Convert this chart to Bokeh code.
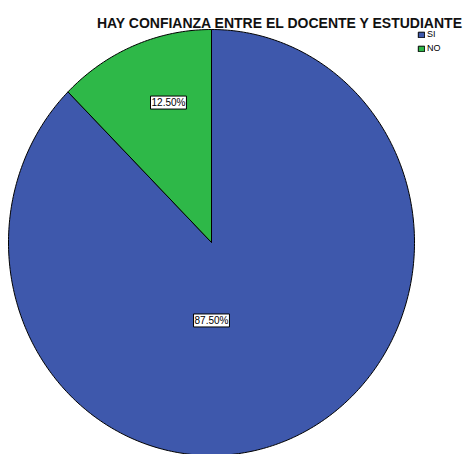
import numpy as np
from bokeh.plotting import figure
from bokeh.models import Legend, LegendItem, Label
from bokeh.embed import file_html
from bokeh.resources import INLINE

# ---- data ----
categories = ["SI", "NO"]
percentages = [87.5, 12.5]
labels = ["87.50%", "12.50%"]
colors = ["#3E58AC", "#2EB848"]
title_text = "HAY CONFIANZA ENTRE EL DOCENTE Y ESTUDIANTE"

W, H = 464, 454
# unit ellipse mapped to ~203 px horizontally and ~213 px vertically
cx_px, cy_px = 211, 242
rx_px, ry_px = 203, 213

p = figure(width=W, height=H, output_backend="svg", toolbar_location=None,
           x_range=(-cx_px / rx_px, (W - cx_px) / rx_px),
           y_range=(-(H - cy_px) / ry_px, cy_px / ry_px),
           min_border=0)
p.axis.visible = False
p.grid.visible = False
p.outline_line_color = None
p.background_fill_color = "white"
p.border_fill_color = "white"

# slices clockwise from 12 o'clock
start = np.pi / 2
renderers = []
total = sum(percentages)
for cat, pct, col in zip(categories, percentages, colors):
    sweep = 2 * np.pi * pct / total
    th = np.linspace(start, start - sweep, max(int(400 * pct / total), 8))
    xs = np.concatenate([[0.0], np.cos(th), [0.0]])
    ys = np.concatenate([[0.0], np.sin(th), [0.0]])
    r = p.patch(xs, ys, fill_color=col, line_color="black", line_width=1)
    renderers.append(r)
    start -= sweep

# percentage labels
label_pos = {"SI": (0.0, -0.366), "NO": (-0.212, 0.657)}
for cat, lab in zip(categories, labels):
    x, y = label_pos[cat]
    p.add_layout(Label(x=x, y=y, text=lab, text_align="center", text_baseline="middle",
                       text_font="Liberation Sans", text_font_size="10px", text_color="black",
                       background_fill_color="white", border_line_color="black",
                       border_line_width=1, padding=1))

# title
p.add_layout(Label(x=W - 1, y=H - 22, x_units="screen", y_units="screen", text=title_text,
                   text_align="right", text_baseline="alphabetic",
                   text_font="Liberation Sans", text_font_size="14px",
                   text_font_style="bold", text_color="#111111"))

legend = Legend(items=[LegendItem(label=c, renderers=[r]) for c, r in zip(categories, renderers)],
                location=(417, H - 53), glyph_width=8, glyph_height=7,
                label_text_font="Liberation Sans", label_text_font_size="9px",
                label_text_color="black",
                label_standoff=2, spacing=4, padding=0, margin=0,
                border_line_color=None, background_fill_alpha=0, label_height=8)
p.add_layout(legend)

open("out.html", "w").write(file_html(p, INLINE))
